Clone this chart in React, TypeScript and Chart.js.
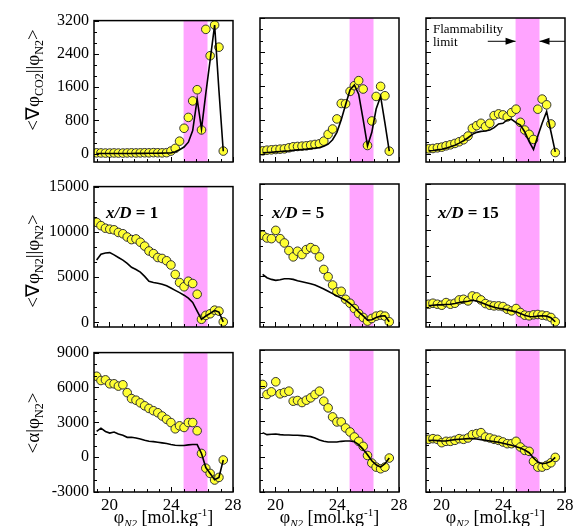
import React, { useEffect, useRef } from 'react';
import { Chart, registerables } from 'chart.js';
Chart.register(...registerables);

const FONT = "'Liberation Serif', 'Times New Roman', serif";

// ---- data ----
const phiN2 = [19.17, 19.45, 19.74, 20.02, 20.30, 20.58, 20.87, 21.15, 21.43, 21.72, 22.00, 22.28, 22.56, 22.85, 23.13, 23.41, 23.70, 23.98, 24.26, 24.54, 24.83, 25.11, 25.39, 25.68, 25.96, 26.24, 26.52, 26.81, 27.09, 27.37];

const co2_xD1_exp = [20, 18, 15, 15, 18, 15, 15, 18, 20, 18, 20, 22, 20, 25, 22, 20, 24, 63, 127, 301, 611, 872, 1269, 1538, 571, 2990, 2355, 3093, 2561, 63];
const co2_xD1_sim = [5, 5, 5, 5, 5, 5, 5, 6, 6, 7, 8, 8, 9, 10, 12, 14, 17, 20, 48, 95, 160, 277, 555, 1310, 595, 1450, 2250, 3093, 1520, 60];
const co2_xD5_exp = [63, 79, 87, 95, 103, 111, 135, 159, 167, 174, 182, 198, 214, 230, 293, 452, 579, 817, 1182, 1174, 1467, 1602, 1721, 1523, 190, 769, 1348, 1586, 1364, 56];
const co2_xD5_sim = [16, 24, 32, 40, 48, 56, 63, 75, 87, 95, 103, 115, 127, 143, 170, 220, 325, 500, 800, 1150, 1500, 1620, 1400, 800, 180, 500, 1050, 1350, 720, 56];
const co2_xD15_exp = [111, 119, 135, 151, 182, 206, 238, 278, 325, 412, 595, 658, 714, 634, 714, 896, 936, 912, 864, 967, 1047, 737, 555, 452, 333, 1047, 1285, 1150, 698, 24];
const co2_xD15_sim = [63, 71, 87, 103, 127, 159, 198, 246, 301, 373, 452, 500, 523, 531, 555, 611, 698, 714, 793, 809, 730, 674, 515, 278, 95, 412, 714, 991, 515, 40];

const n2_xD1_exp = [11051, 10692, 10405, 10297, 10226, 9938, 9795, 9436, 9149, 9220, 8861, 8431, 7892, 7605, 7174, 7066, 6815, 6348, 5307, 4410, 3943, 4553, 4302, 3117, 353, 784, 963, 1358, 1250, 66];
const n2_xD1_sim = [6887, 7533, 7677, 7713, 7461, 7174, 6887, 6528, 6097, 5846, 5559, 5092, 4553, 4410, 4338, 4230, 4051, 3800, 3548, 3297, 3010, 2687, 2220, 1251, 353, 712, 999, 1322, 1143, 66];
const n2_xD5_exp = [9436, 9149, 9077, 9974, 9077, 8610, 7784, 7102, 7713, 7354, 7892, 8107, 7892, 7102, 5738, 4948, 4051, 3297, 3369, 2507, 2076, 1502, 963, 533, 138, 425, 676, 784, 676, 66];
const n2_xD5_sim = [5200, 4840, 4660, 4553, 4625, 4733, 4733, 4660, 4518, 4410, 4302, 4194, 4051, 3836, 3620, 3369, 3117, 2866, 2651, 2400, 2040, 1610, 1143, 712, 245, 281, 533, 676, 712, 66];
const n2_xD15_exp = [1969, 2076, 1969, 1861, 2148, 1969, 2076, 2435, 2507, 2328, 2866, 2758, 2435, 2040, 1861, 1789, 1789, 1717, 1430, 1251, 1502, 1071, 784, 712, 820, 856, 784, 712, 533, 66];
const n2_xD15_sim = [1789, 1861, 1897, 1897, 1933, 1969, 2040, 2148, 2220, 2292, 2400, 2328, 2148, 1969, 1789, 1645, 1538, 1466, 1358, 1251, 1143, 963, 784, 641, 605, 676, 712, 676, 497, 66];

const a_xD1_exp = [6964, 6597, 6653, 6314, 6314, 6116, 6229, 5551, 5042, 4901, 4675, 4420, 4194, 3996, 3826, 3543, 3261, 2978, 2441, 2696, 2554, 2978, 2978, 2272, 321, -951, -1403, -1969, -1743, -244];
const a_xD1_sim = [2215, 2498, 2215, 2074, 2159, 1989, 1876, 1706, 1706, 1650, 1565, 1452, 1367, 1339, 1282, 1226, 1169, 1084, 1028, 999, 999, 1056, 1084, 1084, 321, -895, -1403, -1940, -1743, -244];
const a_xD5_exp = [6088, 5240, 5466, 6314, 5296, 5409, 5523, 4674, 4731, 4561, 4759, 4957, 5240, 5523, 4674, 4109, 3346, 2922, 2922, 2413, 2074, 1650, 1282, 858, 85, -555, -895, -1036, -895, -131];
const a_xD5_sim = [2017, 1848, 1876, 1904, 1848, 1820, 1820, 1791, 1791, 1763, 1735, 1678, 1565, 1395, 1282, 1226, 1226, 1226, 1282, 1311, 1311, 1254, 999, 604, 152, -357, -697, -895, -612, -131];
const a_xD15_exp = [1452, 1508, 1452, 1169, 1282, 1282, 1367, 1508, 1452, 1565, 1848, 1932, 2017, 1650, 1565, 1452, 1367, 1226, 1084, 1084, 1282, 802, 519, 434, -414, -895, -895, -753, -527, -75];
const a_xD15_sim = [1339, 1367, 1339, 1311, 1311, 1367, 1424, 1452, 1480, 1508, 1508, 1480, 1424, 1367, 1311, 1254, 1198, 1113, 1028, 943, 830, 717, 547, 321, -131, -471, -612, -555, -414, -75];

const xTicks = [20, 24, 28];
const xMin = 19;
const xMax = 28;
const yTicksCO2 = [0, 800, 1600, 2400, 3200];
const yTicksN2 = [0, 5000, 10000, 15000];
const yTicksAlpha = [-3000, 0, 3000, 6000, 9000];
const yRangeCO2 = [-200, 3200];
const yRangeN2 = [-500, 15000];
const yRangeAlpha = [-3000, 9000];

const bandStart = 24.8;
const bandEnd = 26.35;
const arrowY = 2650;
const arrowLeftFrom = 23.0;
const arrowRightFrom = 28.0;

const xDLabels = ['1', '5', '15'];

// ---- layout ----
const COL_LEFT = [94, 260, 426];
const PLOT_W = 139;
const ROW_TOP = [18, 184, 350];
const ROW_H = [144, 143, 142];
const PL = 56, PT = 12, PR = 16, PB = 30;

const ROWS = [
  { ticks: yTicksCO2, range: yRangeCO2, exp: [co2_xD1_exp, co2_xD5_exp, co2_xD15_exp], sim: [co2_xD1_sim, co2_xD5_sim, co2_xD15_sim] },
  { ticks: yTicksN2, range: yRangeN2, exp: [n2_xD1_exp, n2_xD5_exp, n2_xD15_exp], sim: [n2_xD1_sim, n2_xD5_sim, n2_xD15_sim] },
  { ticks: yTicksAlpha, range: yRangeAlpha, exp: [a_xD1_exp, a_xD5_exp, a_xD15_exp], sim: [a_xD1_sim, a_xD5_sim, a_xD15_sim] },
];

function tickValues(ticks: number[], n: number, min: number, max: number) {
  const step = (ticks[1] - ticks[0]) / n;
  let v = ticks[0];
  while (v - step >= min - 1e-9) v -= step;
  const out: { v: number; major: boolean }[] = [];
  for (; v <= max + 1e-9; v += step) {
    const major = ticks.some((t) => Math.abs(t - v) < step * 0.01);
    out.push({ v, major });
  }
  return out;
}

function drawArrow(ctx: CanvasRenderingContext2D, fromX: number, toX: number, y: number) {
  ctx.beginPath();
  ctx.moveTo(fromX, y);
  ctx.lineTo(toX, y);
  ctx.stroke();
  const dir = Math.sign(toX - fromX);
  ctx.beginPath();
  ctx.moveTo(toX, y);
  ctx.lineTo(toX - dir * 10, y - 3.5);
  ctx.lineTo(toX - dir * 10, y + 3.5);
  ctx.closePath();
  ctx.fill();
}

function Panel({ row, col }: { row: number; col: number }) {
  const ref = useRef<HTMLCanvasElement>(null);
  const w = PLOT_W + PL + PR;
  const h = ROW_H[row] + PT + PB;
  useEffect(() => {
    const cfg = ROWS[row];
    const exp = cfg.exp[col];
    const sim = cfg.sim[col];
    const yTicks = cfg.ticks;
    const [yMin, yMax] = cfg.range;
    const plugin = {
      id: 'frame' + row + col,
      beforeDatasetsDraw(chart: any) {
        const { ctx, chartArea: a, scales } = chart;
        const x1 = scales.x.getPixelForValue(bandStart);
        const x2 = scales.x.getPixelForValue(bandEnd);
        ctx.save();
        ctx.fillStyle = '#ffa4ff';
        ctx.fillRect(x1, a.top, x2 - x1, a.bottom - a.top);
        ctx.restore();
      },
      afterDraw(chart: any) {
        const { ctx, chartArea: a, scales } = chart;
        ctx.save();
        ctx.strokeStyle = '#000';
        ctx.fillStyle = '#000';
        ctx.lineWidth = 1;
        tickValues(yTicks, 3, yMin, yMax).forEach(({ v, major }) => {
          const y = Math.round(scales.y.getPixelForValue(v)) + 0.5;
          ctx.beginPath();
          ctx.moveTo(a.left, y);
          ctx.lineTo(a.left + (major ? 5 : 3), y);
          ctx.stroke();
        });
        tickValues(xTicks, 5, xMin, xMax).forEach(({ v, major }) => {
          const x = Math.round(scales.x.getPixelForValue(v)) + 0.5;
          ctx.beginPath();
          ctx.moveTo(x, a.bottom);
          ctx.lineTo(x, a.bottom - (major ? 5 : 3));
          ctx.stroke();
        });
        ctx.lineWidth = 1.5;
        ctx.strokeRect(a.left, a.top, a.right - a.left, a.bottom - a.top);
        if (row === 0 && col === 2) {
          ctx.lineWidth = 1;
          const y = scales.y.getPixelForValue(arrowY);
          drawArrow(ctx, scales.x.getPixelForValue(arrowLeftFrom), scales.x.getPixelForValue(bandStart), y);
          drawArrow(ctx, scales.x.getPixelForValue(arrowRightFrom), scales.x.getPixelForValue(bandEnd), y);
        }
        ctx.restore();
      },
    };
    const chart = new Chart(ref.current as HTMLCanvasElement, {
      type: 'scatter',
      data: {
        datasets: [
          {
            data: sim.map((y, i) => ({ x: phiN2[i], y })),
            showLine: true,
            pointRadius: 0,
            borderColor: '#000',
            borderWidth: 1.6,
            order: 0,
          } as any,
          {
            data: exp.map((y, i) => ({ x: phiN2[i], y })),
            pointRadius: 4.3,
            borderWidth: 1,
            backgroundColor: '#ffff33',
            borderColor: '#333',
            order: 1,
          } as any,
        ],
      },
      options: {
        animation: false,
        responsive: false,
        devicePixelRatio: 1,
        events: [],
        layout: { padding: { left: 0, top: PT, right: PR, bottom: 0 } },
        plugins: { legend: { display: false }, tooltip: { enabled: false } },
        scales: {
          x: {
            type: 'linear',
            min: xMin,
            max: xMax,
            grid: { display: false, drawTicks: false },
            border: { display: false },
            afterBuildTicks: (s: any) => { s.ticks = xTicks.map((v) => ({ value: v })); },
            afterFit: (s: any) => { s.height = PB; },
            ticks: {
              display: row === 2,
              autoSkip: false,
              maxRotation: 0,
              padding: 3,
              color: '#000',
              font: { family: FONT, size: 17 },
              callback: (v: any) => String(v),
            },
          },
          y: {
            type: 'linear',
            min: yMin,
            max: yMax,
            grid: { display: false, drawTicks: false },
            border: { display: false },
            afterBuildTicks: (s: any) => { s.ticks = yTicks.map((v) => ({ value: v })); },
            afterFit: (s: any) => { s.width = PL; },
            ticks: {
              display: col === 0,
              autoSkip: false,
              padding: 5,
              color: '#000',
              font: { family: FONT, size: 16 },
              callback: (v: any) => String(v),
            },
          },
        },
      } as any,
      plugins: [plugin],
    });
    return () => chart.destroy();
  }, []);
  return (
    <canvas
      ref={ref}
      width={w}
      height={h}
      style={{ position: 'absolute', left: COL_LEFT[col] - PL, top: ROW_TOP[row] - PT, width: w, height: h }}
    />
  );
}

const subS: React.CSSProperties = { fontSize: 12, verticalAlign: '-0.3em', lineHeight: 0 };

export default function App() {
  const yTitleBase: React.CSSProperties = {
    position: 'absolute',
    left: 33,
    transform: 'translate(-50%, -50%) rotate(-90deg)',
    whiteSpace: 'nowrap',
    fontFamily: FONT,
    fontSize: 19,
    lineHeight: '22px',
    color: '#000',
  };
  const xDStyle: React.CSSProperties = {
    position: 'absolute',
    fontFamily: FONT,
    fontSize: 17,
    fontWeight: 'bold',
    whiteSpace: 'nowrap',
    lineHeight: '20px',
    color: '#000',
  };
  return (
    <div style={{ position: 'absolute', left: 0, top: 0, width: 573, height: 526, background: '#fff', overflow: 'hidden' }}>
      {[0, 1, 2].map((r) => [0, 1, 2].map((c) => <Panel key={r + '-' + c} row={r} col={c} />))}

      <div style={{ ...yTitleBase, top: 80 }}>
        &lt;∇φ<span style={subS}>CO2</span>||φ<span style={subS}>N2</span>&gt;
      </div>
      <div style={{ ...yTitleBase, top: 261 }}>
        &lt;∇φ<span style={subS}>N2</span>||φ<span style={subS}>N2</span>&gt;
      </div>
      <div style={{ ...yTitleBase, top: 423 }}>
        &lt;α|φ<span style={subS}>N2</span>&gt;
      </div>

      {[0, 1, 2].map((c) => (
        <div
          key={'xt' + c}
          style={{
            position: 'absolute',
            left: COL_LEFT[c] + PLOT_W / 2,
            top: 517,
            transform: 'translate(-50%, -50%)',
            whiteSpace: 'nowrap',
            fontFamily: FONT,
            fontSize: 18,
            lineHeight: '20px',
            color: '#000',
          }}
        >
          φ<span style={{ fontSize: 11, fontStyle: 'italic', verticalAlign: '-0.35em', lineHeight: 0 }}>N2</span> [mol.kg
          <span style={{ fontSize: 11, verticalAlign: '0.6em', lineHeight: 0 }}>-1</span>]
        </div>
      ))}

      {[0, 1, 2].map((c) => (
        <div key={'xd' + c} style={{ ...xDStyle, left: COL_LEFT[c] + 12, top: 203 }}>
          <i>x/D</i> = {xDLabels[c]}
        </div>
      ))}

      <div style={{ position: 'absolute', left: 433, top: 22, fontFamily: FONT, fontSize: 13, lineHeight: '13px', color: '#000' }}>
        Flammability
        <br />
        limit
      </div>
    </div>
  );
}
